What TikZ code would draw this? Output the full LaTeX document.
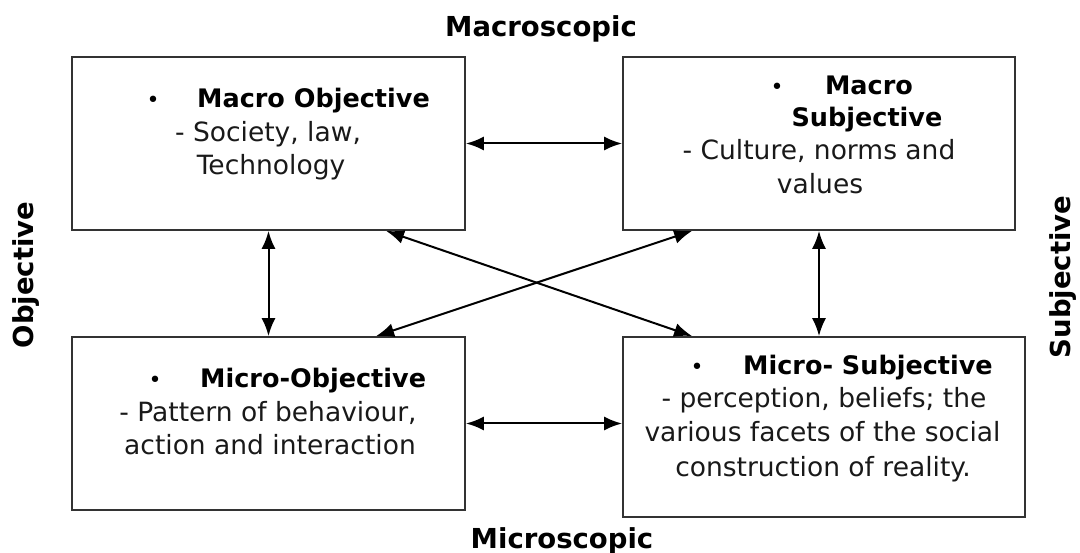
\documentclass[tikz,border=0pt]{standalone}
\usepackage{fontspec}
\setmainfont{DejaVu Sans}
\usetikzlibrary{arrows.meta,calc}

\tikzset{
  quad/.style={draw=black!80, line width=1.8pt, rectangle, inner sep=0pt},
  boxline/.style={inner sep=0pt, anchor=base,
    font=\fontsize{26.5}{30}\selectfont, text=black!90},
  titleline/.style={inner sep=0pt, anchor=base,
    font=\fontsize{25.5}{30}\selectfont\bfseries},
  titlestart/.style={titleline, anchor=base west},
  bulletmark/.style={inner sep=0pt, anchor=base, font=\fontsize{22}{26}\selectfont},
  axislabel/.style={inner sep=0pt, anchor=base, font=\fontsize{27.5}{30}\selectfont\bfseries},
  link/.style={line width=2pt, {Latex[length=18pt,width=14pt]}-{Latex[length=18pt,width=14pt]}}
}

\begin{document}
\begin{tikzpicture}[x=1pt,y=-1pt]
  \useasboundingbox (0,0) rectangle (1080,553);

  % the four quadrants
  \node[quad, minimum width=393pt, minimum height=173pt] (mo)  at (268.5,143.5) {};
  \node[quad, minimum width=392pt, minimum height=173pt] (ms)  at (819,143.5) {};
  \node[quad, minimum width=393pt, minimum height=173pt] (mio) at (268.5,423.5) {};
  \node[quad, minimum width=402pt, minimum height=180pt] (mis) at (824,427) {};

  % Macro Objective
  \node[bulletmark] (moB) at (153,108) {•};
  \node[titlestart] (moT) at (197,108) {Macro Objective};
  \node[boxline] (moX1) at (268,142) {- Society, law,};
  \node[boxline] (moX2) at (271,175) {Technology};

  % Macro Subjective
  \node[bulletmark] (msB) at (777,95) {•};
  \node[titleline] (msT1) at (869,95) {Macro};
  \node[titleline] (msT2) at (867,127) {Subjective};
  \node[boxline] (msX1) at (819,160) {- Culture, norms and};
  \node[boxline] (msX2) at (820,194) {values};

  % Micro-Objective
  \node[bulletmark] (mioB) at (155,388) {•};
  \node[titlestart] (mioT) at (200,388) {Micro-Objective};
  \node[boxline] (mioX1) at (268,422) {- Pattern of behaviour,};
  \node[boxline] (mioX2) at (270,455) {action and interaction};

  % Micro-Subjective
  \node[bulletmark] (misB) at (697,375) {•};
  \node[titlestart] (misT) at (743,375) {Micro- Subjective};
  \node[boxline] (misX1) at (824,408) {- perception, beliefs; the};
  \node[boxline] (misX2) at (822.5,442) {various facets of the social};
  \node[boxline] (misX3) at (823,477) {construction of reality.};

  % axis labels
  \node[axislabel] (top) at (541,37) {Macroscopic};
  \node[axislabel] (bot) at (562,548) {Microscopic};
  \node[axislabel, rotate=90] (lft) at (33,275) {Objective};
  \node[axislabel, rotate=90] (rgt) at (1070,277) {Subjective};

  % connections between the quadrants
  \coordinate (moD)  at ($(mo.south west)+(315,0)$);
  \coordinate (misD) at ($(mis.north west)+(70,0)$);
  \coordinate (mioD) at ($(mio.north west)+(305,0)$);
  \coordinate (msD)  at ($(ms.south west)+(70,0)$);

  \draw[link] (mo.east) -- (ms.west);
  \draw[link] (mio.east) -- (mio.east -| mis.west);
  \draw[link] (mo.south) -- (mio.north);
  \draw[link] (ms.south) -- (ms.south |- mis.north);
  \draw[link] (moD) -- (misD);
  \draw[link] (mioD) -- (msD);
\end{tikzpicture}
\end{document}
